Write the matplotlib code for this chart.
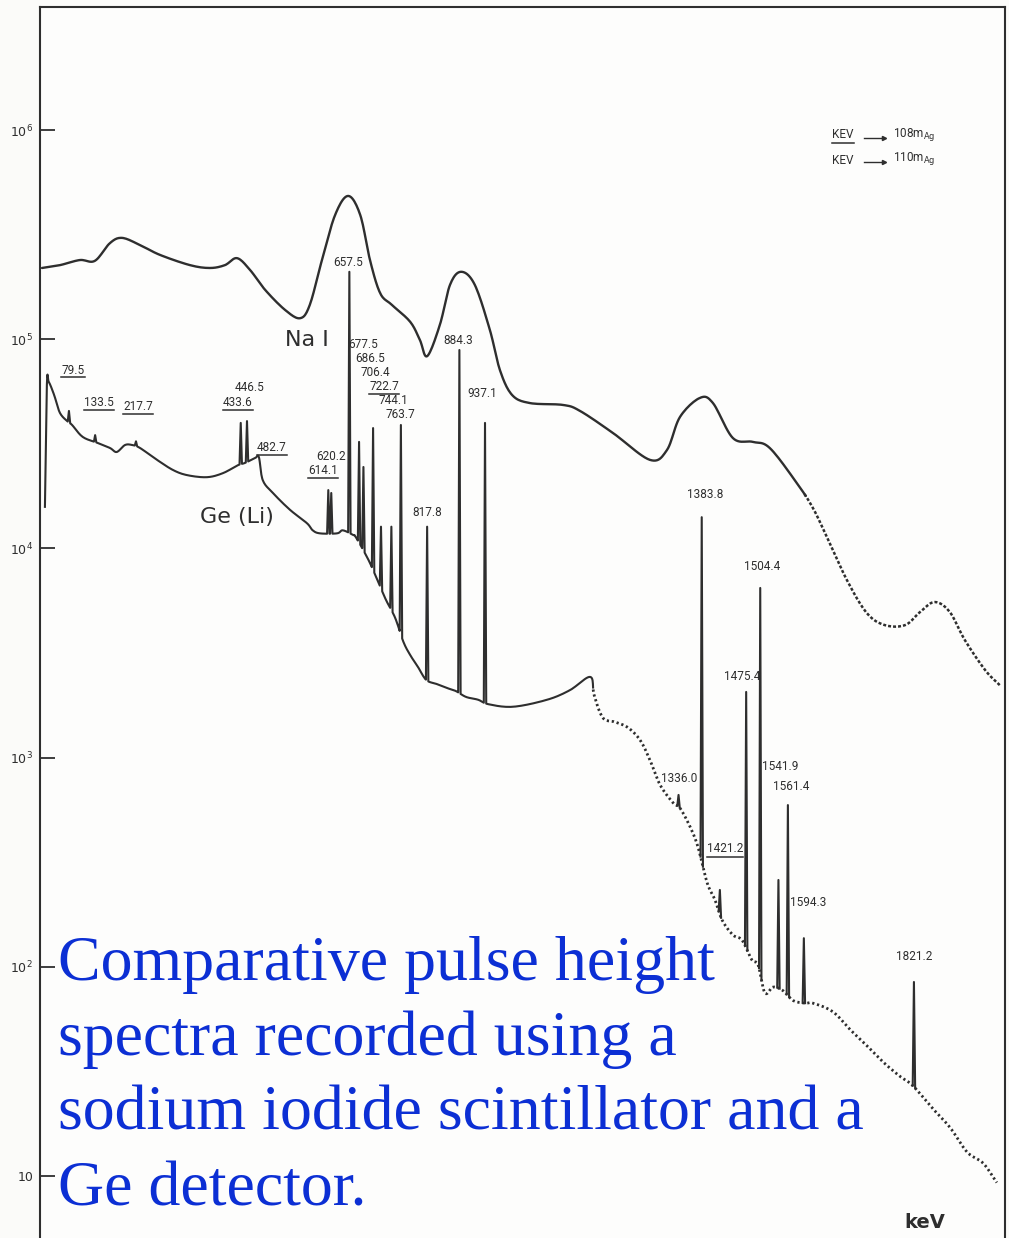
import numpy as np
import matplotlib
matplotlib.use("Agg")
import matplotlib.pyplot as plt
from matplotlib.lines import Line2D

# ---------------- data (energies in keV, counts per channel) ----------------
nai_E = [24, 61, 102, 133, 164, 189, 226, 267, 329, 370, 401, 426, 453, 484, 525,
         556, 576, 601, 628, 655, 680, 700, 721, 745, 783, 803, 818, 844, 865, 888,
         916, 947, 968, 993, 1030, 1098, 1133, 1201, 1277, 1312, 1339, 1380, 1407,
         1448, 1489, 1524, 1580, 1613, 1642, 1683, 1724, 1761, 1803, 1834, 1864,
         1895, 1926, 1968, 1998]
nai_C = [2.19e5, 2.26e5, 2.39e5, 2.37e5, 2.88e5, 3.05e5, 2.82e5, 2.53e5, 2.26e5,
         2.19e5, 2.26e5, 2.44e5, 2.14e5, 1.72e5, 1.38e5, 1.26e5, 1.46e5, 2.39e5,
         3.92e5, 4.84e5, 3.92e5, 2.39e5, 1.66e5, 1.46e5, 1.21e5, 9.9e4, 8.3e4,
         1.17e5, 1.82e5, 2.10e5, 1.82e5, 1.11e5, 7.1e4, 5.41e4, 4.95e4, 4.85e4,
         4.54e4, 3.56e4, 2.65e4, 2.95e4, 4.25e4, 5.24e4, 4.95e4, 3.37e4, 3.23e4,
         3.02e4, 2.05e4, 1.56e4, 1.13e4, 7.06e3, 4.91e3, 4.30e3, 4.30e3, 4.97e3,
         5.54e3, 4.97e3, 3.65e3, 2.62e3, 2.22e3]

ge_E = [30, 34, 38, 49, 61, 78, 86, 108, 139, 164, 178, 195, 210, 226, 261, 294,
        323, 364, 397, 428, 442, 463, 471, 479, 500, 535, 570, 582, 597, 632, 644,
        665, 671, 697, 717, 733, 752, 769, 783, 799, 816, 837, 859, 877, 898, 923,
        944, 995, 1065, 1112, 1154, 1162, 1180, 1205, 1232, 1257, 1277, 1298, 1325,
        1339, 1360, 1376, 1395, 1411, 1426, 1448, 1467, 1487, 1500, 1514, 1531,
        1551, 1572, 1597, 1613, 1654, 1690, 1724, 1758, 1792, 1819, 1860, 1896,
        1931, 1964, 1992]
ge_C = [1.58e4, 6.04e4, 6.24e4, 5.41e4, 4.44e4, 4.02e4, 3.89e4, 3.41e4, 3.19e4,
        3.02e4, 2.89e4, 3.12e4, 3.12e4, 3.02e4, 2.65e4, 2.37e4, 2.24e4, 2.19e4,
        2.29e4, 2.50e4, 2.56e4, 2.70e4, 2.73e4, 2.12e4, 1.84e4, 1.53e4, 1.32e4,
        1.22e4, 1.18e4, 1.18e4, 1.22e4, 1.16e4, 1.13e4, 8.80e3, 6.91e3, 5.67e3,
        4.65e3, 3.57e3, 3.09e3, 2.71e3, 2.35e3, 2.25e3, 2.15e3, 2.08e3, 1.95e3,
        1.89e3, 1.80e3, 1.75e3, 1.89e3, 2.10e3, 2.43e3, 1.99e3, 1.55e3, 1.48e3,
        1.39e3, 1.21e3, 974, 740, 607, 574, 466, 374, 252, 209, 167, 142, 134, 108,
        102, 75, 80, 77, 69, 67, 67, 61, 50, 42, 35, 30, 27, 21, 17, 13, 11.5, 9.3]

peak_E = [79.5, 133.5, 217.7, 433.6, 446.5, 614.1, 620.2, 657.5, 677.5, 686.5,
          706.4, 722.7, 744.1, 763.7, 817.8, 884.3, 937.1, 1336.0, 1383.8, 1421.2,
          1475.4, 1504.4, 1541.9, 1561.4, 1594.3, 1821.2]
peak_C = [4.54e4, 3.48e4, 3.25e4, 3.98e4, 4.06e4, 1.90e4, 1.84e4, 2.10e5, 3.23e4,
          2.45e4, 3.76e4, 1.27e4, 1.27e4, 3.89e4, 1.27e4, 8.88e4, 3.98e4, 663,
          1.41e4, 233, 2.06e3, 6.47e3, 260, 593, 137, 84.6]

# peak labels: text, underlined (108mAg line)
labels = ["79.5", "133.5", "217.7", "446.5", "433.6", "482.7", "620.2", "614.1",
          "657.5", "677.5", "686.5", "706.4", "722.7", "744.1", "763.7", "817.8",
          "884.3", "937.1", "1383.8", "1504.4", "1475.4", "1541.9", "1561.4",
          "1336.0", "1421.2", "1594.3", "1821.2"]
underlined = {"79.5", "133.5", "217.7", "433.6", "482.7", "614.1", "722.7", "1421.2"}
y_ticks = [1e1, 1e2, 1e3, 1e4, 1e5, 1e6]
y_ticklabels = ["10", r"$10^{2}$", r"$10^{3}$", r"$10^{4}$", r"$10^{5}$", r"$10^{6}$"]

caption = ["Comparative pulse height", "spectra recorded using a",
           "sodium iodide scintillator and a", "Ge detector."]

# ---------------- layout (pixels) ----------------
W, H = 1009, 1238
label_pos = [(73, 370), (99, 402), (138, 406), (250, 388), (238, 402), (272, 447),
             (331, 456), (323, 470), (348, 262), (363, 344), (370, 358), (375, 372),
             (384, 386), (393, 401), (400, 415), (427, 513), (458, 341), (482, 394),
             (705, 494), (762, 567), (742, 676), (780, 767), (791, 786), (679, 779),
             (725, 849), (808, 903), (914, 956)]
INK = "#2e2e2e"

fig = plt.figure(figsize=(W / 100, H / 100), dpi=100)
fig.patch.set_facecolor("#fbfbf9")
ax = fig.add_axes([40 / W, 0, (1005 - 40) / W, 1 - 7 / H])
ax.set_facecolor("#fdfdfc")
ax.set_yscale("log")
ax.set_xlim(19.85, 2008.9)
ax.set_ylim(10 ** 0.7036, 10 ** 6.588)


def cr_spline(x, y, n=12):
    P = np.column_stack([np.asarray(x, float), np.asarray(y, float)])
    P = np.vstack([2 * P[0] - P[1], P, 2 * P[-1] - P[-2]])
    t = np.linspace(0, 1, n, endpoint=False)[:, None]
    out = []
    for i in range(1, len(P) - 2):
        p0, p1, p2, p3 = P[i - 1], P[i], P[i + 1], P[i + 2]
        out.append(0.5 * (2 * p1 + (-p0 + p2) * t + (2 * p0 - 5 * p1 + 4 * p2 - p3) * t ** 2
                          + (-p0 + 3 * p1 - 3 * p2 + p3) * t ** 3))
    out.append(P[-2][None, :])
    S = np.vstack(out)
    return S[:, 0], S[:, 1]


# NaI curve
nE, nL = cr_spline(nai_E, np.log10(nai_C))
split_n = 1600
m = nE <= split_n
ax.plot(nE[m], 10 ** nL[m], color=INK, lw=1.7, solid_capstyle="round")
ax.plot(nE[nE >= split_n - 5], 10 ** nL[nE >= split_n - 5], color=INK, lw=1.8,
        linestyle=(0, (1.2, 0.8)))

# Ge(Li) curve with peaks
gE, gL = cr_spline(ge_E, np.log10(ge_C))
gE = np.maximum.accumulate(gE)


def base(e):
    return np.interp(e, gE, gL)


w = 2.5
mask = np.ones(len(gE), bool)
for e0 in peak_E:
    mask &= ~((gE > e0 - w) & (gE < e0 + w))
pts = list(zip(gE[mask], gL[mask]))
tri = []
for e0, c in zip(peak_E, peak_C):
    t3 = [(e0 - w, base(e0 - w)), (e0, np.log10(c)), (e0 + w, base(e0 + w))]
    tri.append(t3)
    pts += t3
pts.sort(key=lambda p: p[0])
pts = np.array(pts)
split_g = 1160
lo = pts[pts[:, 0] <= split_g]
ax.plot(lo[:, 0], 10 ** lo[:, 1], color=INK, lw=1.5)
hm = gE >= split_g
ax.plot(gE[hm], 10 ** gL[hm], color=INK, lw=2.0, linestyle=(0, (0.8, 1.0)))
for e0, t3 in zip(peak_E, tri):
    if e0 > split_g:
        t3 = np.array(t3)
        ax.plot(t3[:, 0], 10 ** t3[:, 1], color=INK, lw=1.5)

# axes styling
for s in ["top", "left", "right"]:
    ax.spines[s].set_color(INK)
    ax.spines[s].set_linewidth(1.5)
ax.spines["bottom"].set_visible(False)
ax.set_xticks([])
ax.set_yticks(y_ticks)
ax.set_yticklabels(y_ticklabels)
ax.minorticks_off()
ax.yaxis.set_minor_locator(matplotlib.ticker.NullLocator())
ax.tick_params(axis="y", direction="in", length=11, width=1.3, color=INK,
               labelsize=9, labelcolor=INK, pad=5)

# text
narrow = ["Roboto", "DejaVu Sans"]
texts = []
for lab, (px, py) in zip(labels, label_pos):
    t = fig.text(px / W, 1 - py / H, lab, ha="center", va="center", fontsize=8.5,
                 family=narrow, color=INK)
    texts.append((t, lab in underlined))

fig.text(307 / W, 1 - 340 / H, "Na I", ha="center", va="center", fontsize=16,
         color=INK)
fig.text(237 / W, 1 - 517 / H, "Ge (Li)", ha="center", va="center", fontsize=16,
         color=INK)
fig.text(925 / W, 1 - 1222 / H, "keV", ha="center", va="center", fontsize=14,
         color=INK, weight="semibold")

k1 = fig.text(843 / W, 1 - 135 / H, "KEV", ha="center", va="center", fontsize=8.5,
              family=narrow, color=INK)
k2 = fig.text(843 / W, 1 - 160 / H, "KEV", ha="center", va="center", fontsize=8.5,
              family=narrow, color=INK)
texts.append((k1, True))
texts.append((k2, False))
for yy in (138, 162):
    fig.add_artist(Line2D([864 / W, 884 / W], [1 - yy / H] * 2, color=INK, lw=1))
    fig.add_artist(Line2D([884 / W], [1 - yy / H], marker=">", ms=3, color=INK))
fig.text(893 / W, 1 - 134 / H, r"108m$_{\mathrm{Ag}}$", ha="left", va="center",
         fontsize=8.5, family=narrow, color=INK)
fig.text(893 / W, 1 - 158 / H, r"110m$_{\mathrm{Ag}}$", ha="left", va="center",
         fontsize=8.5, family=narrow, color=INK)

for line, yb in zip(caption, [980, 1055, 1130, 1205]):
    fig.text(58 / W, 1 - yb / H, line, ha="left", va="baseline", fontsize=46,
             family=["Liberation Serif", "DejaVu Serif"], color="#0c2fd4")

# underlines
fig.canvas.draw()
r = fig.canvas.get_renderer()
for t, ul in texts:
    if ul:
        bb = t.get_window_extent(r)
        yline = bb.y0 - 1
        fig.add_artist(Line2D([bb.x0 / W, bb.x1 / W], [yline / H] * 2, color=INK, lw=1.1))

fig.savefig("out.png", dpi=100, facecolor=fig.get_facecolor())
